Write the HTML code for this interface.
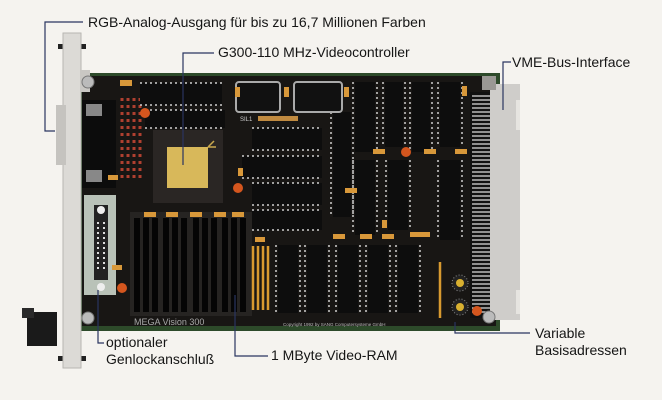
<!DOCTYPE html>
<html><head><meta charset="utf-8"><style>
html,body{margin:0;padding:0;background:#f5f3ef;}
svg{display:block}
text{font-family:"Liberation Sans",sans-serif;}
</style></head><body>
<svg width="662" height="400" viewBox="0 0 662 400" xmlns="http://www.w3.org/2000/svg">
<rect width="662" height="400" fill="#f5f3ef"/>
<!-- handle bottom-left -->
<rect x="27" y="312" width="30" height="34" fill="#1a1a1a"/>
<rect x="22" y="308" width="12" height="10" fill="#2a2a2a"/>
<!-- pins on panel -->
<rect x="58" y="44" width="28" height="5" fill="#222"/>
<rect x="58" y="356" width="28" height="5" fill="#222"/>
<!-- board -->
<rect x="80" y="73" width="420" height="258" fill="#2d4a2a"/>
<rect x="82" y="76" width="414" height="250" fill="#181614"/>
<!-- VME connector -->
<rect x="470" y="92" width="22" height="226" fill="#111"/>
<g stroke="#ddd" stroke-width="1.3">
<path d="M472 96h18M472 100h18M472 104h18M472 108h18M472 112h18M472 116h18M472 120h18M472 124h18M472 128h18M472 132h18M472 136h18M472 140h18M472 144h18M472 148h18M472 152h18M472 156h18M472 160h18M472 164h18M472 168h18M472 172h18M472 176h18M472 180h18M472 184h18M472 188h18M472 192h18M472 196h18M472 200h18M472 204h18M472 208h18M472 212h18M472 216h18M472 220h18M472 224h18M472 228h18M472 232h18M472 236h18M472 240h18M472 244h18M472 248h18M472 252h18M472 256h18M472 260h18M472 264h18M472 268h18M472 272h18M472 276h18M472 280h18M472 284h18M472 288h18M472 292h18M472 296h18M472 300h18M472 304h18M472 308h18M472 312h18"/>
</g>
<rect x="490" y="84" width="30" height="236" fill="#cfcdca"/>
<rect x="516" y="100" width="4" height="30" fill="#e6e4e0"/>
<rect x="516" y="290" width="4" height="24" fill="#e6e4e0"/>
<rect x="482" y="76" width="14" height="14" fill="#9a9894"/>
<circle cx="489" cy="317" r="6" fill="#bbb" stroke="#777"/>
<!-- front panel -->
<rect x="63" y="33" width="18" height="335" fill="#dcdad6" stroke="#b8b6b2"/>
<rect x="80" y="70" width="10" height="22" fill="#c9c7c3"/>
<circle cx="88" cy="82" r="6" fill="#bbb" stroke="#777"/>
<circle cx="88" cy="318" r="6" fill="#bbb" stroke="#777"/>
<rect x="56" y="105" width="10" height="60" fill="#c5c3bf"/>
<!-- left connector area -->
<rect x="82" y="100" width="34" height="88" fill="#0c0c0c"/>
<rect x="86" y="104" width="16" height="12" fill="#888"/>
<rect x="86" y="170" width="16" height="12" fill="#888"/>
<rect x="84" y="195" width="32" height="100" fill="#b9c2b8"/>
<rect x="94" y="205" width="14" height="75" fill="#222"/>
<circle cx="101" cy="210" r="4" fill="#eee"/><circle cx="101" cy="287" r="4" fill="#eee"/>
<path d="M98 222v50M104 222v50" stroke="#ddd" stroke-width="2" stroke-dasharray="2 3"/>
<!-- resistor columns -->
<g stroke="#b04030" stroke-width="3" stroke-dasharray="3 4">
<path d="M122 98v80M128 98v80M134 98v80M140 98v80"/>
</g>
<!-- DIP chips -->
<g fill="#0d0d0d">
<rect x="140" y="83" width="82" height="22"/>
<rect x="145" y="110" width="80" height="18"/>
<rect x="252" y="128" width="70" height="22"/>
<rect x="242" y="156" width="80" height="22"/>
<rect x="252" y="183" width="70" height="22"/>
<rect x="252" y="210" width="70" height="20"/>
<rect x="333" y="112" width="18" height="105"/>
<rect x="355" y="82" width="20" height="70"/>
<rect x="385" y="82" width="18" height="65"/>
<rect x="412" y="82" width="18" height="70"/>
<rect x="440" y="82" width="20" height="65"/>
<rect x="355" y="160" width="20" height="75"/>
<rect x="388" y="160" width="20" height="70"/>
<rect x="440" y="160" width="20" height="80"/>
<rect x="278" y="245" width="20" height="68"/>
<rect x="307" y="245" width="20" height="68"/>
<rect x="338" y="245" width="20" height="68"/>
<rect x="368" y="245" width="20" height="68"/>
<rect x="398" y="245" width="20" height="68"/>
</g>
<g stroke="#cfcfcf" stroke-width="1.5" stroke-dasharray="2 3" fill="none">
<path d="M140 83h82M140 105h82M145 110h80M145 128h80M252 128h70M252 150h70M242 156h80M242 178h80M252 183h70M252 205h70M252 210h70M252 230h70"/>
<path d="M331 112v105M353 112v105M353 82v70M377 82v70M383 82v65M405 82v65M410 82v70M432 82v70M438 82v65M462 82v65M353 160v75M377 160v75M386 160v70M410 160v70M438 160v80M462 160v80"/>
<path d="M276 245v68M300 245v68M305 245v68M329 245v68M336 245v68M360 245v68M366 245v68M390 245v68M396 245v68M420 245v68"/>
</g>
<!-- crystals -->
<rect x="236" y="82" width="44" height="30" rx="3" fill="#111" stroke="#aaa" stroke-width="2"/>
<rect x="294" y="82" width="48" height="30" rx="3" fill="#111" stroke="#aaa" stroke-width="2"/>
<rect x="258" y="116" width="40" height="5" fill="#c08a40"/>
<text x="240" y="121" font-size="6" fill="#ccc">SIL1</text>
<!-- video controller -->
<rect x="153" y="130" width="70" height="73" fill="#2a2624"/>
<rect x="167" y="147" width="41" height="41" fill="#d8b85a"/>
<path d="M208 147l6-6m-6 6l8 0" stroke="#c9a84e" stroke-width="1.5"/>
<!-- RAM slots -->
<rect x="130" y="212" width="122" height="104" fill="#262422"/>
<g fill="#050505">
<rect x="134" y="218" width="6" height="94"/><rect x="143" y="218" width="6" height="94"/><rect x="152" y="218" width="6" height="94"/>
<rect x="163" y="218" width="6" height="94"/><rect x="172" y="218" width="6" height="94"/><rect x="181" y="218" width="6" height="94"/>
<rect x="193" y="218" width="6" height="94"/><rect x="202" y="218" width="6" height="94"/><rect x="211" y="218" width="6" height="94"/>
<rect x="222" y="218" width="6" height="94"/><rect x="231" y="218" width="6" height="94"/><rect x="240" y="218" width="6" height="94"/>
</g>
<!-- gold strips -->
<g stroke="#d89a30" stroke-width="2.5"><path d="M253 246v64M258 246v64M263 246v64M268 246v64M440 262v56"/></g>
<!-- orange SMD -->
<g fill="#d8983a">
<rect x="120" y="80" width="12" height="6"/><rect x="235" y="87" width="5" height="10"/><rect x="284" y="87" width="5" height="10"/><rect x="344" y="87" width="5" height="10"/><rect x="462" y="86" width="5" height="10"/>
<rect x="144" y="212" width="12" height="5"/><rect x="166" y="212" width="12" height="5"/><rect x="190" y="212" width="12" height="5"/><rect x="214" y="212" width="12" height="5"/><rect x="232" y="212" width="12" height="5"/>
<rect x="373" y="149" width="12" height="5"/><rect x="424" y="149" width="12" height="5"/><rect x="455" y="149" width="12" height="5"/>
<rect x="345" y="188" width="12" height="5"/><rect x="333" y="234" width="12" height="5"/><rect x="360" y="234" width="12" height="5"/><rect x="382" y="234" width="12" height="5"/><rect x="410" y="232" width="20" height="5"/>
<rect x="255" y="237" width="10" height="5"/><rect x="112" y="265" width="10" height="5"/><rect x="108" y="175" width="10" height="5"/><rect x="238" y="168" width="5" height="8"/><rect x="382" y="220" width="5" height="8"/>
</g>
<!-- red caps -->
<g fill="#d4561e">
<circle cx="145" cy="113" r="5"/><circle cx="238" cy="188" r="5"/><circle cx="406" cy="152" r="5"/><circle cx="122" cy="288" r="5"/><circle cx="477" cy="311" r="5"/>
</g>
<!-- DIP switches -->
<circle cx="460" cy="283" r="8" fill="#222" stroke="#888" stroke-dasharray="1 2"/><circle cx="460" cy="283" r="4" fill="#d8b030"/>
<circle cx="460" cy="307" r="8" fill="#222" stroke="#888" stroke-dasharray="1 2"/><circle cx="460" cy="307" r="4" fill="#d8b030"/>
<!-- board text -->
<text x="134" y="325" font-size="9" fill="#a8a8a8" font-family="Liberation Mono,monospace">MEGA Vision 300</text>
<text x="283" y="326" font-size="4.5" fill="#bbb">Copyright 1992 by SANG Computersysteme GmbH</text>
<!-- callout lines -->
<g stroke="#2a3560" stroke-width="1.2" fill="none">
<path d="M83 22H45V131H55"/>
<path d="M214 53H183V165"/>
<path d="M511 62H503V110"/>
<path d="M98 290V343H104"/>
<path d="M235 295V356H268"/>
<path d="M455 322V333H530"/>
</g>
<g font-size="14" fill="#151515">
<text x="88" y="27">RGB-Analog-Ausgang für bis zu 16,7 Millionen Farben</text>
<text x="218" y="57">G300-110 MHz-Videocontroller</text>
<text x="512" y="67">VME-Bus-Interface</text>
<text x="106" y="347">optionaler</text>
<text x="106" y="364">Genlockanschluß</text>
<text x="271" y="360">1 MByte Video-RAM</text>
<text x="535" y="338">Variable</text>
<text x="535" y="355">Basisadressen</text>
</g>
</svg>
</body></html>
